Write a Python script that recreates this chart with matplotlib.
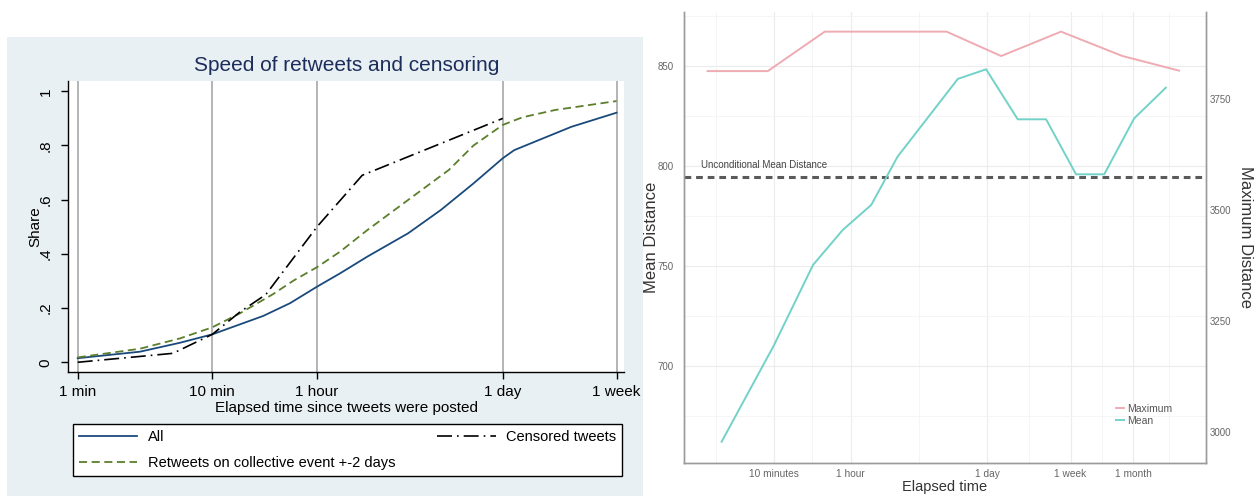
import matplotlib
matplotlib.use("Agg")
import matplotlib.pyplot as plt
from matplotlib.patches import Rectangle
from matplotlib.ticker import NullLocator, FixedLocator, NullFormatter

plt.rcParams['font.family'] = ['Liberation Sans', 'DejaVu Sans']

# ---------------- Left chart data ----------------
left_tick_minutes = [1, 10, 60, 1440, 10080]
left_tick_labels = ["1 min", "10 min", "1 hour", "1 day", "1 week"]
share_ticks = [0, 0.2, 0.4, 0.6, 0.8, 1.0]
share_tick_labels = ["0", ".2", ".4", ".6", ".8", "1"]

all_min = [1, 2.9, 5.75, 10, 23.9, 37.8, 60, 88.9, 142, 285, 499, 872, 1440, 1753, 2666, 4656, 10080]
all_share = [0.015, 0.039, 0.072, 0.103, 0.171, 0.218, 0.279, 0.328, 0.39, 0.476, 0.562, 0.66,
             0.753, 0.783, 0.82, 0.869, 0.921]

event_min = [1, 2.9, 5.75, 10, 16.1, 28.4, 40, 60, 88.9, 142, 285, 573, 872, 1440, 2014, 3522, 10080]
event_share = [0.018, 0.050, 0.088, 0.129, 0.181, 0.252, 0.301, 0.351, 0.408, 0.488, 0.599, 0.71,
               0.80, 0.876, 0.904, 0.931, 0.964]

cens_min = [1, 5.1, 10, 16, 25, 60, 130, 1440]
cens_share = [0.0, 0.033, 0.103, 0.185, 0.25, 0.50, 0.69, 0.90]

# ---------------- Right chart data ----------------
right_tick_minutes = [10, 60, 1440, 10080, 43200]
right_tick_labels = ["10 minutes", "1 hour", "1 day", "1 week", "1 month"]
mean_ticks = [700, 750, 800, 850]
max_ticks = [3000, 3250, 3500, 3750]

mean_min = [2.97, 10, 25, 50, 97, 179, 729, 1409, 2945, 5700, 11460, 22100, 44460, 92900]
mean_dist = [662, 710, 750.4, 767.9, 780.4, 804.5, 843.4, 848.2, 823.2, 823.2, 795.7, 795.7, 823.7, 839]

max_min = [2.14, 8.7, 32.8, 561, 2000, 8070, 33800, 126500]
max_dist = [3813, 3813, 3902, 3902, 3847, 3902, 3847, 3814]

uncond_mean = 794.2

# ---------------- Figure ----------------
W, H = 1254, 496
fig = plt.figure(figsize=(W / 100, H / 100), dpi=100)
fig.patch.set_facecolor('white')


def fx(px):
    return px / W


def fy(py):
    return 1 - py / H


panel = Rectangle((fx(7.3), 0), fx(642.7) - fx(7.3), fy(36.7), transform=fig.transFigure,
                  facecolor='#e9f0f3', edgecolor='none', zorder=-10)
fig.add_artist(panel)

# ---- Left axes (Stata style) ----
ax1 = fig.add_axes([fx(67.7), fy(372.3), fx(624) - fx(67.7), fy(81) - fy(372.3)])
ax1.set_zorder(1)
ax1.set_facecolor('white')
ax1.set_xscale('log')
ax1.set_xlim(0.843, 11450)
ax1.set_ylim(-0.037, 1.038)
ax1.xaxis.set_minor_locator(NullLocator())
ax1.xaxis.set_minor_formatter(NullFormatter())
ax1.set_xticks(left_tick_minutes)
ax1.set_xticklabels(left_tick_labels, fontsize=11)
ax1.set_yticks(share_ticks)
ax1.set_yticklabels(share_tick_labels, fontsize=11, rotation=90, va='center')
for s in ['top', 'right']:
    ax1.spines[s].set_visible(False)
for s in ['left', 'bottom']:
    ax1.spines[s].set_color('black')
    ax1.spines[s].set_linewidth(1.0)
ax1.tick_params(axis='both', direction='out', length=5, width=1.0, color='black')
ax1.tick_params(axis='x', pad=4)
ax1.tick_params(axis='y', pad=6)
for m in left_tick_minutes:
    ax1.axvline(m, color='#a0a0a0', lw=1.1, zorder=1)

l_all, = ax1.plot(all_min, all_share, color='#1a4a7c', lw=1.3, zorder=3)
l_evt, = ax1.plot(event_min, event_share, color='#5c7f2c', lw=1.3, ls=(0, (4.5, 2.5)), zorder=3)
l_cen, = ax1.plot(cens_min, cens_share, color='black', lw=1.2, ls=(0, (9, 3, 1, 3)), zorder=4)

ax1.set_ylabel("Share", fontsize=11, va='center')
ax1.yaxis.set_label_coords(-0.0588, 0.499)
ax1.set_xlabel("Elapsed time since tweets were posted", fontsize=11, va='center')
ax1.xaxis.set_label_coords(0.502, -0.1226)
ax1.text(0.502, 1.0515, "Speed of retweets and censoring", transform=ax1.transAxes,
         ha='center', va='center', fontsize=15, color='#1c2d5c')

fig.legend([l_all, l_evt, l_cen],
           ["All", "Retweets on collective event +-2 days", "Censored tweets"],
           loc='upper left', mode='expand', ncol=2,
           bbox_to_anchor=(fx(73.3), fy(475.7), fx(621.7) - fx(73.3), fy(424.3) - fy(475.7)),
           bbox_transform=fig.transFigure, borderaxespad=0, frameon=True, fancybox=False,
           edgecolor='black', framealpha=1, fontsize=10.5, handlelength=4.0,
           handletextpad=0.7, labelspacing=0.8, borderpad=0.4)

# ---- Right axes (ggplot style) ----
ax2 = fig.add_axes([fx(684), fy(463), fx(1206) - fx(684), fy(11.7) - fy(463)])
ax2.set_zorder(1)
ax2.set_xscale('log')
ax2.set_xlim(1.236, 236600)
ax2.set_ylim(651.35, 877)
ax2.set_xticks(right_tick_minutes)
ax2.set_xticklabels(right_tick_labels, fontsize=7.3, color='#666666')
ax2.xaxis.set_minor_locator(FixedLocator([2.6, 24.5, 294, 3810, 20870, 100000]))
ax2.xaxis.set_minor_formatter(NullFormatter())
ax2.set_yticks(mean_ticks)
ax2.set_yticklabels([str(v) for v in mean_ticks], fontsize=7, color='#666666')
ax2.yaxis.set_minor_locator(FixedLocator([675, 725, 775, 825, 875]))
ax2.yaxis.set_minor_formatter(NullFormatter())
ax2.grid(True, which='major', color='#ececec', lw=0.8)
ax2.grid(True, which='minor', color='#f4f4f4', lw=0.6)
ax2.set_axisbelow(True)
ax2.tick_params(axis='both', which='both', length=0)
ax2.tick_params(axis='y', pad=7.5)
ax2.tick_params(axis='x', pad=4)
ax2.spines['top'].set_visible(False)
for s in ['left', 'bottom', 'right']:
    ax2.spines[s].set_color('#9a9a9a')
    ax2.spines[s].set_linewidth(1.0)

ax3 = ax2.twinx()
ax3.set_ylim(2929, 3947)
ax3.set_yticks(max_ticks)
ax3.set_yticklabels([str(v) for v in max_ticks], fontsize=7, color='#666666')
ax3.tick_params(axis='y', length=0, pad=3)
ax3.spines['top'].set_visible(False)
for s in ['left', 'bottom', 'right']:
    ax3.spines[s].set_color('#9a9a9a')
    ax3.spines[s].set_linewidth(1.0)

ax2.axhline(uncond_mean, color='#5a5a5a', lw=2.2, ls=(0, (2.2, 1.6)), zorder=2)
ax2.text(1.835, 800.4, "Unconditional Mean Distance", fontsize=7, color='#444444',
         ha='left', va='center')
l_mean, = ax2.plot(mean_min, mean_dist, color='#72d2c8', lw=1.4, zorder=3)
l_max, = ax3.plot(max_min, max_dist, color='#efabb2', lw=1.4, zorder=3)

ax2.set_ylabel("Mean Distance", fontsize=12, color='#333333', va='center')
ax2.yaxis.set_label_coords(-0.0625, 0.5)
ax2.set_xlabel("Elapsed time", fontsize=10.5, color='#333333', va='center')
ax2.xaxis.set_label_coords(0.5, -0.0525)
ax3.set_ylabel("Maximum Distance", fontsize=12, color='#333333', rotation=270, va='center')
ax3.yaxis.set_label_coords(1.0766, 0.5)

ax3.legend([l_max, l_mean], ["Maximum", "Mean"], loc='upper left',
           bbox_to_anchor=(fx(1116), fy(404)), bbox_transform=fig.transFigure,
           frameon=False, fontsize=7.5, labelcolor='#555555', handlelength=0.8,
           handletextpad=0.3, labelspacing=0.15, borderpad=0, borderaxespad=0)

fig.savefig("out.png", dpi=100, facecolor=fig.get_facecolor())
